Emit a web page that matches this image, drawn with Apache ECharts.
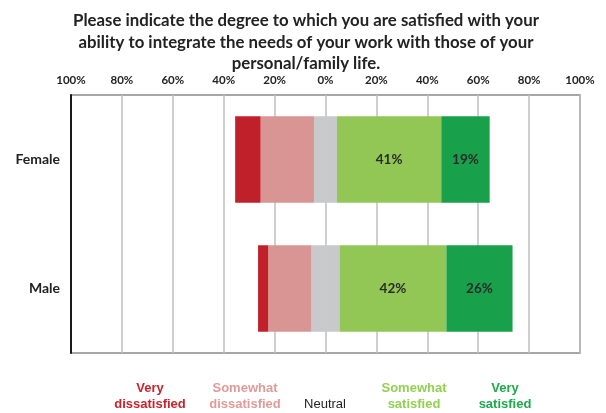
<!DOCTYPE html>
<html>
<head>
<meta charset="utf-8">
<script src="https://cdn.jsdelivr.net/npm/echarts@6/dist/echarts.min.js"></script>
<style>
  html, body { margin: 0; padding: 0; background: #fff; }
  #chart { width: 606px; height: 413px; }
</style>
</head>
<body>
<div id="chart"></div>
<script>
const categories = ["Female", "Male"];
const veryDissatisfied = [10, 4];
const somewhatDissatisfied = [21, 17];
const neutral = [9, 11];
const somewhatSatisfied = [41, 42];
const verySatisfied = [19, 26];

const legendNames = ["Very\ndissatisfied", "Somewhat\ndissatisfied", "Neutral", "Somewhat\nsatisfied", "Very\nsatisfied"];

const colors = {
  vd: "#c0202a",
  sd: "#d99594",
  ne: "#c8c9cb",
  ss: "#92c755",
  vs: "#18a04a",
};

const chart = echarts.init(document.getElementById("chart"));

const labelStyle = {
  show: true,
  formatter: "{c}%",
  color: "#2b2b2b",
  fontFamily: "Lato",
  fontWeight: "bold",
  fontSize: 13.5,
};

const bar = (name, data, color, label) => ({
  name: name,
  type: "bar",
  stack: "total",
  data: data,
  barCategoryGap: "33%",
  itemStyle: { color: color },
  label: label ? labelStyle : { show: false },
  emphasis: { disabled: true },
});

// legend text along the bottom
const legendX = [150, 245, 325, 414, 505];
const legendColors = ["#c8232c", "#e09a9a", "#222222", "#92d050", "#1daa4a"];
const legendGraphics = legendNames.map((t, i) => ({
  type: "text",
  x: legendX[i],
  y: i == 2 ? 396 : 380,
  style: {
    text: t,
    fill: legendColors[i],
    font: (i == 2 ? "" : "bold ") + '13px "Liberation Sans"',
    align: "center",
    lineHeight: 16,
  },
}));

const option = {
  animation: false,
  title: {
    text: "Please indicate the degree to which you are satisfied with your\nability to integrate the needs of your work with those of your\npersonal/family life.",
    left: 301,
    textAlign: "center",
    top: 5,
    textStyle: {
      fontFamily: "Lato",
      fontWeight: "bold",
      fontSize: 16.8,
      lineHeight: 21.5,
      color: "#222",
    },
  },
  grid: {
    left: 71,
    right: 26,
    top: 95,
    bottom: 60,
    show: true,
    borderColor: "#8a8a8a",
    borderWidth: 1.5,
  },
  xAxis: {
    type: "value",
    position: "top",
    min: -100,
    max: 100,
    interval: 20,
    axisLine: { show: false },
    axisTick: { show: false },
    axisLabel: {
      formatter: (v) => Math.abs(v) + "%",
      fontFamily: "Lato",
      fontWeight: "bold",
      fontSize: 11.5,
      color: "#222",
      margin: 9,
    },
    splitLine: { lineStyle: { color: "#bfbfbf", width: 1.5 } },
  },
  yAxis: {
    type: "category",
    data: categories,
    inverse: true,
    axisLine: { onZero: false, lineStyle: { color: "#1a1a1a", width: 2 } },
    axisTick: { show: false },
    axisLabel: {
      fontFamily: "Lato",
      fontWeight: "bold",
      fontSize: 14,
      color: "#222",
      margin: 11,
    },
  },
  series: [
    bar("Neutral", neutral.map((v) => -v / 2), colors.ne, false),
    bar("Somewhat dissatisfied", somewhatDissatisfied.map((v) => -v), colors.sd, false),
    bar("Very dissatisfied", veryDissatisfied.map((v) => -v), colors.vd, false),
    bar("Neutral", neutral.map((v) => v / 2), colors.ne, false),
    bar("Somewhat satisfied", somewhatSatisfied, colors.ss, true),
    bar("Very satisfied", verySatisfied, colors.vs, true),
  ],
  graphic: legendGraphics,
};

chart.setOption(option);
</script>
</body>
</html>
